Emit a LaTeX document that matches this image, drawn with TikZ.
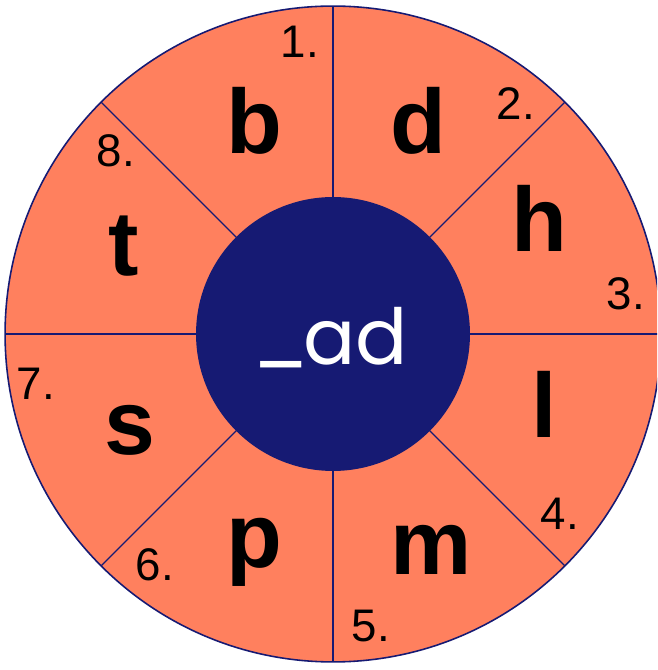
\documentclass[tikz,border=0pt]{standalone}
\usepackage{fontspec}
\setmainfont{Liberation Sans}
\newfontfamily\hubfont{Poppins}
\usetikzlibrary{positioning}
\definecolor{wheelfill}{RGB}{255,128,94}
\definecolor{wheelnavy}{RGB}{22,26,115}
\tikzset{
    spoke/.style={draw=wheelnavy, line width=0.75pt},
    hubstyle/.style={circle, fill=wheelnavy, minimum size=5.48cm, inner sep=0pt},
    onset/.style={anchor=base, font=\fontsize{52}{52}\selectfont\bfseries},
    numlbl/.style={anchor=base, font=\fontsize{26}{26}\selectfont}
}
\begin{document}
\begin{tikzpicture}[x=0.02cm, y=0.02cm]
    \useasboundingbox (0,0) rectangle (657,670);
    \clip (0,0) rectangle (657,670);
    % outer wheel
    \coordinate (c) at (333,336);
    \fill[wheelfill] (c) circle[radius=6.56cm];
    \foreach \a in {0,45,...,315}
        \draw[spoke] (c) -- ++(\a:6.56cm);
    \draw[draw=wheelnavy, line width=0.9pt] (c) circle[radius=6.56cm];
    % hub
    \node[hubstyle] (hub) at (c) {};
    \node[anchor=base, text=white, font=\hubfont\fontsize{44}{44}\selectfont] (word) at (330,305) {\raisebox{0.12cm}{\_}\kern-0.12cm ad};
    % letters
    \node[onset] (b) at (254,516) {b};
    \node[onset] (d) at (418,516) {d};
    \node[onset] (h) at (539,418) {h};
    \node[onset] (l) at (544,232) {l};
    \node[onset] (m) at (431,95) {m};
    \node[onset] (p) at (254,102) {p};
    \node[onset] (s) at (130,215) {s};
    \node[onset] (t) at (124,394) {t};
    % numbers
    \node[numlbl] (n1) at (300,612) {1.};
    \node[numlbl] (n2) at (516,550) {2.};
    \node[numlbl] (n3) at (626,360) {3.};
    \node[numlbl] (n4) at (560,140) {4.};
    \node[numlbl] (n5) at (371,29) {5.};
    \node[numlbl] (n6) at (155,89) {6.};
    \node[numlbl] (n7) at (36,270) {7.};
    \node[numlbl] (n8) at (116,503) {8.};
\end{tikzpicture}
\end{document}
